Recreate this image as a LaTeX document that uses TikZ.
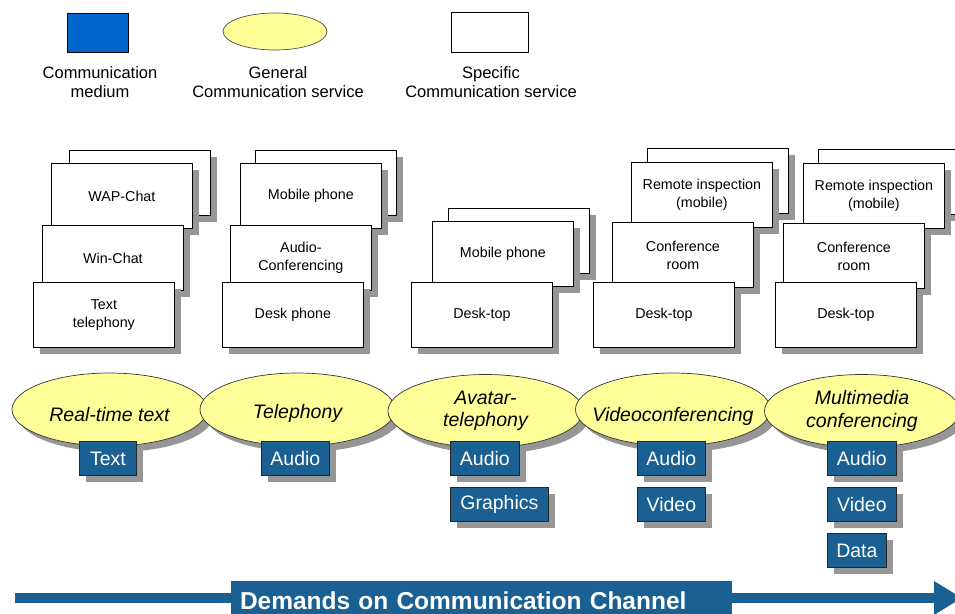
\documentclass[tikz,border=0pt]{standalone}
\usepackage{fontspec}
\setmainfont{Liberation Sans}
\usetikzlibrary{shadows,arrows.meta,shapes.geometric}
\definecolor{medblue}{RGB}{27,96,146}
\definecolor{legblue}{RGB}{0,102,204}
\definecolor{ellyellow}{RGB}{255,255,153}
\definecolor{shadowgray}{RGB}{150,150,150}
\begin{document}
\begin{tikzpicture}[x=1pt,y=-1pt,
  sshadow/.style={drop shadow={shadow xshift=7pt, shadow yshift=-7pt, fill=shadowgray, opacity=1}},
  svcbox/.style={draw=black, line width=0.8pt, fill=white, minimum width=141pt, minimum height=65pt,
    inner sep=0pt, anchor=north west, align=center, font=\fontsize{14.3}{18}\selectfont, sshadow},
  general/.style={ellipse, draw=black!80, line width=0.7pt, fill=ellyellow, minimum width=195pt,
    minimum height=73pt, inner sep=0pt, align=center, font=\fontsize{19.5}{22.5}\selectfont\itshape,
    drop shadow={shadow xshift=6pt, shadow yshift=-6pt, fill=shadowgray, opacity=1}},
  medium/.style={draw=black!85, line width=0.8pt, fill=medblue, text=white, minimum height=34pt,
    inner sep=0pt, anchor=north west, font=\fontsize{19.5}{22}\selectfont, sshadow},
  legtext/.style={anchor=north, inner sep=0pt, align=center, font=\fontsize{16.5}{19}\selectfont},
]
\useasboundingbox (0,0) rectangle (955,613);

% Legend
\node[draw=black, line width=0.8pt, fill=legblue, minimum width=61pt, minimum height=39pt, inner sep=0pt, anchor=north west] (legmed) at (67,13) {};
\node[ellipse, draw=black!70, line width=0.7pt, fill=ellyellow, minimum width=104pt, minimum height=37pt, inner sep=0pt] (leggen) at (275,31.5) {};
\node[draw=black, line width=0.8pt, fill=white, minimum width=77pt, minimum height=40pt, inner sep=0pt, anchor=north west] (legspec) at (451,12) {};
\node[legtext] (legmedt) at (100,66) {Communication\\medium};
\node[legtext] (leggent) at (278,66) {General\\Communication service};
\node[legtext] (legspect) at (491,66) {Specific\\Communication service};

% Column 1
\node[svcbox] (c1b) at (69,150) {};
\node[svcbox] (c1a) at (51,163) {WAP-Chat};
\node[svcbox] (c1w) at (42,225) {Win-Chat};
\node[svcbox] (c1t) at (33,282) {Text\\telephony};
% Column 2
\node[svcbox] (c2b) at (255,150) {};
\node[svcbox] (c2m) at (240,163) {Mobile phone};
\node[svcbox] (c2a) at (230,225) {Audio-\\Conferencing};
\node[svcbox] (c2d) at (222,282) {Desk phone};
% Column 3
\node[svcbox] (c3b) at (448,208) {};
\node[svcbox] (c3m) at (432,221) {Mobile phone};
\node[svcbox] (c3d) at (411,282) {Desk-top};
% Column 4
\node[svcbox] (c4b) at (647,148) {};
\node[svcbox] (c4r) at (631,162) {Remote inspection\\(mobile)};
\node[svcbox] (c4c) at (612,222) {Conference\\room};
\node[svcbox] (c4d) at (593,282) {Desk-top};
% Column 5
\node[svcbox] (c5b) at (818,149) {};
\node[svcbox] (c5r) at (803,163) {Remote inspection\\(mobile)};
\node[svcbox] (c5c) at (783,223) {Conference\\room};
\node[svcbox] (c5d) at (775,282) {Desk-top};

% General services
\node[general] (g1) at (109.5,409.5) {\raisebox{-12pt}[0pt][0pt]{Real-time text}};
\node[general] (g2) at (297.5,409.5) {\raisebox{-8.5pt}[0pt][0pt]{Telephony}};
\node[general] (g3) at (485.5,411) {Avatar-\\telephony};
\node[general] (g4) at (673,409.5) {\raisebox{-11.5pt}[0pt][0pt]{\makebox[110pt]{Videoconferencing}}};
\node[general] (g5) at (862,411) {Multimedia\\conferencing};

% Media
\node[medium, minimum width=57pt] (m1t) at (79,441) {Text};
\node[medium, minimum width=68pt] (m2a) at (261,441) {Audio};
\node[medium, minimum width=69pt] (m3a) at (450,441) {Audio};
\node[medium, minimum width=98pt] (m3g) at (450,487) {Graphics};
\node[medium, minimum width=68pt] (m4a) at (637,441) {Audio};
\node[medium, minimum width=68pt] (m4v) at (637,487) {Video};
\node[medium, minimum width=69pt] (m5a) at (827,441) {Audio};
\node[medium, minimum width=69pt] (m5v) at (827,487) {Video};
\node[medium, minimum width=59pt] (m5d) at (827,533) {Data};

% Bottom arrow
\coordinate (start) at (15,598);
\coordinate (tip) at (962,598);
\draw[medblue, line width=10pt, -{Triangle[length=28pt,width=32pt]}] (start) -- (tip);
\node[fill=medblue, text=white, font=\fontsize{24.5}{28}\selectfont\bfseries, text width=483pt, align=left,
  inner xsep=9pt, inner ysep=0pt, minimum height=40pt] (bar) at (481.5,601) {Demands on Communication Channel};
\end{tikzpicture}
\end{document}
